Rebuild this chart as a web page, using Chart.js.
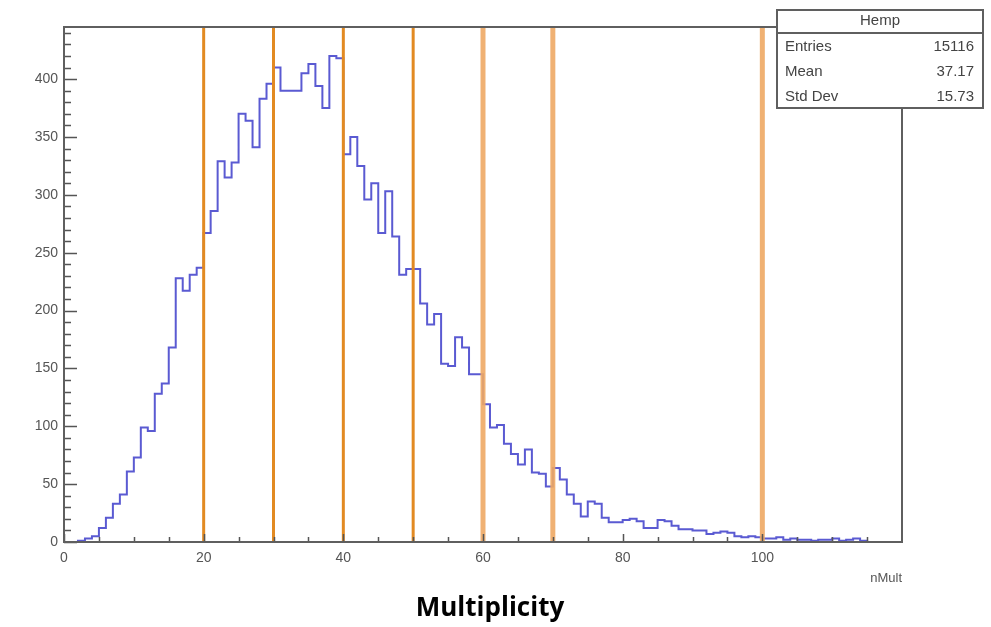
<!DOCTYPE html>
<html>
<head>
<meta charset="utf-8">
<title>nMult</title>
<script src="https://cdn.jsdelivr.net/npm/chart.js@4.4.1/dist/chart.umd.min.js"></script>
<style>
    html, body { margin: 0; padding: 0; background: #fff; }
    #wrap { width: 991px; height: 627px; }
</style>
</head>
<body>
<div id="wrap"><canvas id="multChart" width="991" height="627"></canvas></div>
<script>
(function () {
    "use strict";

    // nMult histogram: unit-wide bins starting at 0
    var binStart = 0;
    var binWidth = 1;
    var binCounts = [
        0, 0, 1, 3, 5, 12, 21, 33, 41, 61,
        73, 99, 96, 128, 137, 168, 228, 217, 231, 237,
        267, 286, 329, 315, 328, 370, 364, 341, 383, 396,
        410, 390, 390, 390, 405, 413, 394, 375, 420, 418,
        335, 350, 325, 296, 310, 267, 303, 264, 231, 236,
        236, 206, 188, 197, 154, 152, 177, 168, 145, 145,
        119, 99, 101, 85, 76, 67, 80, 60, 59, 48,
        64, 54, 41, 33, 22, 35, 33, 21, 17, 17,
        19, 20, 18, 12, 12, 19, 18, 14, 11, 11,
        10, 10, 7, 8, 9, 8, 5, 4, 5, 4,
        3, 3, 4, 2, 3, 2, 2, 1, 2, 2,
        3, 1, 2, 3, 1, 0, 0, 0, 0, 0
    ];

    // multiplicity cuts
    var cutValues = [20, 30, 40, 50, 60, 70, 100];

    var xRange = [0, 120];
    var yRange = [0, 445];
    var xTickLabels = [0, 20, 40, 60, 80, 100];
    var yTickLabels = [0, 50, 100, 150, 200, 250, 300, 350, 400];

    var statsTitle = 'Hemp';
    var statsNames = ['Entries', 'Mean', 'Std Dev'];
    var statsValues = ['15116', '37.17', '15.73'];

    var tickFont = '"Liberation Sans", Arial, sans-serif';
    var axisGrey = '#555555';

    var histPoints = binCounts.map(function (c, i) {
        return {x: binStart + i * binWidth, y: c};
    });
    // close the last bin
    histPoints.push({x: binStart + binCounts.length * binWidth, y: binCounts[binCounts.length - 1]});

    var datasets = cutValues.map(function (c) {
        var light = c >= 60;
        return {
            data: [{x: c, y: yRange[0]}, {x: c, y: yRange[1]}],
            borderColor: light ? 'rgba(238,168,100,0.9)' : '#e28a22',
            borderWidth: light ? 5 : 3,
            pointRadius: 0,
            order: 0
        };
    });
    datasets.push({
        data: histPoints,
        stepped: 'before',
        borderColor: '#5a5ad2',
        borderWidth: 2,
        borderJoinStyle: 'miter',
        pointRadius: 0,
        fill: false,
        order: 1
    });

    // frame plus inward ROOT style tick marks
    var frameTicks = {
        id: 'frameTicks',
        afterLayout: function (chart) {
            // centre the caption under the whole figure, stats box included
            chart.titleBlock.right = chart.width - 11;
        },
        afterDatasetsDraw: function (chart) {
            var ctx = chart.ctx;
            var a = chart.chartArea;
            var xs = chart.scales.x;
            var ys = chart.scales.y;
            var v, p, len;
            ctx.save();
            ctx.strokeStyle = axisGrey;
            ctx.lineWidth = 1.5;
            ctx.beginPath();
            for (v = yRange[0]; v <= yRange[1]; v += 10) {
                p = Math.round(ys.getPixelForValue(v)) + 0.5;
                len = v % 50 === 0 ? 13 : 7;
                ctx.moveTo(a.left, p);
                ctx.lineTo(a.left + len, p);
            }
            for (v = xRange[0]; v < xRange[1]; v += 5) {
                p = Math.round(xs.getPixelForValue(v)) + 0.5;
                len = v % 20 === 0 ? 8 : 5;
                ctx.moveTo(p, a.bottom);
                ctx.lineTo(p, a.bottom - len);
            }
            ctx.stroke();
            ctx.lineWidth = 2;
            ctx.strokeStyle = '#5f5f5f';
            ctx.strokeRect(a.left, a.top, a.right - a.left, a.bottom - a.top);
            ctx.restore();
        }
    };

    var statsBox = {
        id: 'statsBox',
        afterDraw: function (chart) {
            var ctx = chart.ctx;
            var left = 777, right = 983, top = 10, bottom = 108, sep = 33;
            var rowY = [47, 72, 97];
            ctx.save();
            ctx.fillStyle = '#ffffff';
            ctx.fillRect(left, top, right - left, bottom - top);
            ctx.strokeStyle = '#5f5f5f';
            ctx.lineWidth = 2;
            ctx.strokeRect(left, top, right - left, bottom - top);
            ctx.beginPath();
            ctx.moveTo(left, sep);
            ctx.lineTo(right, sep);
            ctx.stroke();
            ctx.fillStyle = '#444444';
            ctx.font = '15px ' + tickFont;
            ctx.textBaseline = 'middle';
            ctx.textAlign = 'center';
            ctx.fillText(statsTitle, (left + right) / 2, 21);
            for (var i = 0; i < statsNames.length; i++) {
                ctx.textAlign = 'left';
                ctx.fillText(statsNames[i], left + 8, rowY[i]);
                ctx.textAlign = 'right';
                ctx.fillText(statsValues[i], right - 9, rowY[i]);
            }
            ctx.restore();
        }
    };

    var ctx = document.getElementById('multChart').getContext('2d');
    new Chart(ctx, {
        type: 'line',
        data: {datasets: datasets},
        plugins: [frameTicks, statsBox],
        options: {
            responsive: false,
            animation: false,
            devicePixelRatio: 1,
            layout: {padding: {left: 0, right: 89, top: 27, bottom: 1}},
            plugins: {
                legend: {display: false},
                tooltip: {enabled: false},
                title: {
                    display: true,
                    position: 'bottom',
                    text: 'Multiplicity',
                    color: '#000',
                    font: {family: '"Open Sans", sans-serif', size: 26, weight: 'bold', lineHeight: 1},
                    padding: {top: 6, bottom: 4}
                }
            },
            scales: {
                x: {
                    type: 'linear',
                    min: xRange[0],
                    max: xRange[1],
                    grid: {display: false, drawTicks: false},
                    border: {display: false},
                    afterBuildTicks: function (scale) {
                        scale.ticks = xTickLabels.map(function (v) { return {value: v}; });
                    },
                    afterFit: function (scale) { scale.height = 48; },
                    ticks: {
                        padding: 8,
                        color: axisGrey,
                        autoSkip: false,
                        maxRotation: 0,
                        font: {family: tickFont, size: 14}
                    },
                    title: {
                        display: true,
                        text: 'nMult',
                        align: 'end',
                        color: axisGrey,
                        font: {family: tickFont, size: 13},
                        padding: {top: 0, bottom: 4}
                    }
                },
                y: {
                    min: yRange[0],
                    max: yRange[1],
                    grid: {display: false, drawTicks: false},
                    border: {display: false},
                    afterBuildTicks: function (scale) {
                        scale.ticks = yTickLabels.map(function (v) { return {value: v}; });
                    },
                    afterFit: function (scale) { scale.width = 64; },
                    ticks: {
                        padding: 6,
                        color: axisGrey,
                        font: {family: tickFont, size: 14}
                    }
                }
            }
        }
    });
})();
</script>
</body>
</html>
